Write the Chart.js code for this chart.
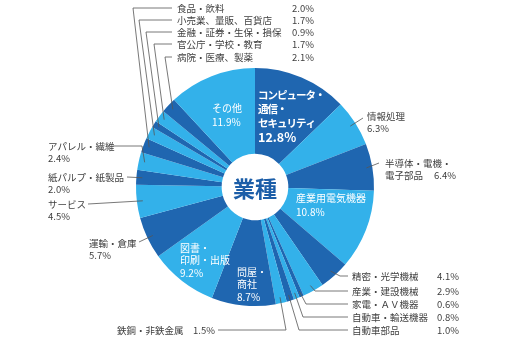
<!DOCTYPE html>
<html>
<head>
<meta charset="utf-8">
<script src="https://cdn.jsdelivr.net/npm/chart.js@4/dist/chart.umd.min.js"></script>
<style>
  html, body { margin: 0; padding: 0; background: #fff; }
  #wrap { width: 510px; height: 343px; }
</style>
</head>
<body>
<div id="wrap"><canvas id="chart" width="510" height="343"></canvas></div>
<script>
// 業種別の構成比（時計回り、12時の位置から）
const categories = [
  "コンピュータ・通信・セキュリティ", "情報処理", "半導体・電機・電子部品", "産業用電気機器",
  "精密・光学機械", "産業・建設機械", "家電・ＡＶ機器", "自動車・輸送機器", "自動車部品",
  "鉄鋼・非鉄金属", "問屋・商社", "図書・印刷・出版", "運輸・倉庫", "サービス",
  "紙パルプ・紙製品", "アパレル・繊維", "食品・飲料", "小売業、量販、百貨店",
  "金融・証券・生保・損保", "官公庁・学校・教育", "病院・医療、製薬", "その他"
];
const values = [12.8, 6.3, 6.4, 10.8, 4.1, 2.9, 0.6, 0.8, 1.0, 1.5, 8.7, 9.2, 5.7, 4.5, 2.0, 2.4, 2.0, 1.7, 0.9, 1.7, 2.1, 11.9];
const centerTitle = "業種";

const DARK = "#1f66b0";
const LIGHT = "#33b1ea";
const TEXT = "#3f3f3f";
const LINE = "#555";
const PCT = "%PCT%";

// labels inside the ring (white)
const innerLabels = [
  { i: 0, x: 258, y: 95, lh: 14, lines: ["コンピュータ・", "通信・", "セキュリティ"], bold: true, size: 10.5, pctSize: 12.5, spacing: -1 },
  { i: 21, x: 212, y: 108, lh: 14, lines: ["その他"], size: 10 },
  { i: 3, x: 296, y: 198, lh: 14, lines: ["産業用電気機器"], size: 10 },
  { i: 11, x: 180, y: 248, lh: 12.5, lines: ["図書・", "印刷・出版"], size: 10 },
  { i: 10, x: 237, y: 272, lh: 12.5, lines: ["問屋・", "商社"], size: 10 }
];

// labels outside the ring, with leader lines
const outerLabels = [
  { i: 1, x: 367, y: 116, lines: ["情報処理", PCT], path: [[363, 118]] },
  { i: 2, x: 385, y: 163, lines: ["半導体・電機・", "電子部品"], pctX: 434, path: [[379, 163]] },
  { i: 4, x: 352, y: 276, lines: ["精密・光学機械"], pctX: 437, path: [[348, 276], [340, 276]] },
  { i: 5, x: 352, y: 291, lines: ["産業・建設機械"], pctX: 437, path: [[348, 291], [315, 291]] },
  { i: 6, x: 352, y: 304, lines: ["家電・ＡＶ機器"], pctX: 437, path: [[348, 304], [306, 304]] },
  { i: 7, x: 352, y: 317, lines: ["自動車・輸送機器"], pctX: 437, path: [[348, 317], [303, 317]] },
  { i: 8, x: 352, y: 330, lines: ["自動車部品"], pctX: 437, path: [[348, 330], [299, 330]] },
  { i: 9, x: 117, y: 330, lines: ["鉄鋼・非鉄金属"], pctX: 193, path: [[218, 330], [286, 330]] },
  { i: 12, x: 89, y: 243, lines: ["運輸・倉庫", PCT], path: [[139, 242]] },
  { i: 13, x: 48, y: 204, lines: ["サービス", PCT], path: [[88, 204]] },
  { i: 14, x: 48, y: 177, lines: ["紙パルプ・紙製品", PCT], path: [[127, 177]] },
  { i: 15, x: 48, y: 146, lines: ["アパレル・繊維", PCT], path: [[113, 146], [142, 146]] },
  { i: 16, x: 177, y: 8, lines: ["食品・飲料"], pctX: 292, path: [[172, 8], [133, 8]] },
  { i: 17, x: 177, y: 20, lines: ["小売業、量販、百貨店"], pctX: 292, path: [[172, 20], [139, 20]] },
  { i: 18, x: 177, y: 32, lines: ["金融・証券・生保・損保"], pctX: 292, path: [[172, 32], [146, 32]] },
  { i: 19, x: 177, y: 44, lines: ["官公庁・学校・教育"], pctX: 292, path: [[172, 44], [154, 44]] },
  { i: 20, x: 177, y: 57, lines: ["病院・医療、製薬"], pctX: 292, path: [[172, 57], [165, 57]] }
];

const FONT = '"Noto Sans CJK JP", "Noto Sans", sans-serif';

function pctText(i) {
  return values[i].toFixed(1) + "%";
}

const labelPlugin = {
  id: "labelPlugin",
  afterDatasetsDraw(chart) {
    const ctx = chart.ctx;
    const arcs = chart.getDatasetMeta(0).data;
    ctx.save();
    ctx.textBaseline = "middle";
    ctx.textAlign = "left";

    // leader lines + outside text
    outerLabels.forEach(l => {
      const arc = arcs[l.i];
      const mid = (arc.startAngle + arc.endAngle) / 2;
      const r = arc.outerRadius * 0.95;
      const ax = arc.x + Math.cos(mid) * r;
      const ay = arc.y + Math.sin(mid) * r;
      ctx.strokeStyle = LINE;
      ctx.lineWidth = 0.8;
      ctx.beginPath();
      ctx.moveTo(l.path[0][0], l.path[0][1]);
      l.path.slice(1).forEach(p => ctx.lineTo(p[0], p[1]));
      ctx.lineTo(ax, ay);
      ctx.stroke();

      ctx.fillStyle = TEXT;
      ctx.font = "9.5px " + FONT;
      l.lines.forEach((t, k) => {
        ctx.fillText(t === PCT ? pctText(l.i) : t, l.x, l.y + k * 12.5);
      });
      if (l.pctX) {
        ctx.fillText(pctText(l.i), l.pctX, l.y + (l.lines.length - 1) * 12.5);
      }
    });

    // inside text
    ctx.fillStyle = "#fff";
    innerLabels.forEach(l => {
      ctx.letterSpacing = (l.spacing || 0) + "px";
      ctx.font = (l.bold ? "bold " : "") + l.size + "px " + FONT;
      l.lines.forEach((t, k) => ctx.fillText(t, l.x, l.y + k * l.lh));
      ctx.letterSpacing = "0px";
      ctx.font = (l.bold ? "bold " : "") + (l.pctSize || l.size) + "px " + FONT;
      ctx.fillText(pctText(l.i), l.x, l.y + l.lines.length * l.lh);
    });

    // center title
    const a0 = arcs[0];
    ctx.fillStyle = "#1c5ea8";
    ctx.textAlign = "center";
    ctx.font = "bold 22px " + FONT;
    ctx.fillText(centerTitle, a0.x, a0.y + 2);
    ctx.restore();
  }
};

new Chart(document.getElementById("chart"), {
  type: "doughnut",
  data: {
    labels: categories,
    datasets: [{
      data: values,
      backgroundColor: values.map((v, i) => (i % 2 === 0 ? DARK : LIGHT)),
      borderWidth: 0,
      hoverOffset: 0
    }]
  },
  options: {
    responsive: false,
    animation: false,
    cutout: "28%",
    layout: { padding: { left: 136, right: 136, top: 68, bottom: 37 } },
    plugins: {
      legend: { display: false },
      tooltip: { enabled: false }
    }
  },
  plugins: [labelPlugin]
});
</script>
</body>
</html>
